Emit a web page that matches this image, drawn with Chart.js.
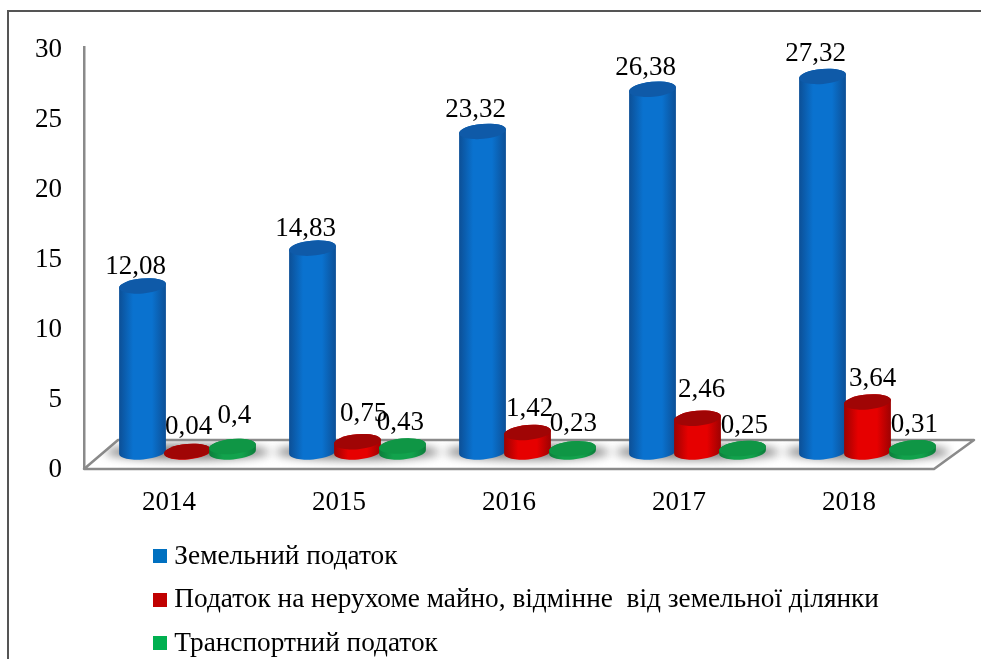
<!DOCTYPE html>
<html>
<head>
<meta charset="utf-8">
<style>html,body{margin:0;padding:0;background:#fff}canvas{display:block}</style>
<script src="https://cdn.jsdelivr.net/npm/chart.js@4"></script>
</head>
<body>
<canvas id="c" width="981" height="659"></canvas>
<script>
const years = ['2014', '2015', '2016', '2017', '2018'];
const landTax = [12.08, 14.83, 23.32, 26.38, 27.32];
const propertyTax = [0.04, 0.75, 1.42, 2.46, 3.64];
const transportTax = [0.4, 0.43, 0.23, 0.25, 0.31];
const seriesNames = [
  'Земельний податок',
  'Податок на нерухоме майно, відмінне  від земельної ділянки',
  'Транспортний податок'
];
const yTicks = [0, 5, 10, 15, 20, 25, 30];

// Cylinder palettes: edge and centre of the body, then the cap.
const palette = [
  { edge: '#0c4f96', mid: '#0a72cf', cap: '#0f5aa8', swatch: '#0070c0' },
  { edge: '#9c0202', mid: '#e60000', cap: '#a00505', swatch: '#c00000' },
  { edge: '#0c7d3a', mid: '#12a24c', cap: '#0f9645', swatch: '#00b050' }
];

const FONT = '"Liberation Serif", "Times New Roman", serif';
const FONT_SIZE = 27;
const LEGEND_FONT_SIZE = 27.3;
const GREY = '#8a8a8a';
const FRAME = '#555555';

// The columns stand halfway back on the floor, which recedes up and to the right.
const DEPTH = { x: 38, y: 28 };
const COLUMN_SHIFT = { x: 18.5, y: -15 };
const CAP_RY = 7.5;
const CAP_TILT = -0.09;

// Label placement relative to the cap centre, per series and year.
const labelNudge = [
  [[-7, -19], [-7, -19], [-7, -21], [-7, -21], [-7, -22]],
  [[1, -25], [6, -28], [2, -24], [4, -28], [5, -23]],
  [[2, -31], [-2, -23], [1, -25], [2, -23], [2, -23]]
];

function swatch(color) {
  const s = document.createElement('canvas');
  s.width = 14; s.height = 14;
  const g = s.getContext('2d');
  g.fillStyle = color;
  g.fillRect(0, 0, 14, 14);
  return s;
}
const swatches = palette.map(p => swatch(p.swatch));

const scene3d = {
  id: 'scene3d',
  // The legend sits under the plot, outside the chart area it is laid out in.
  afterLayout(chart) {
    const l = chart.legend;
    l.left = 143.5; l.right = 960;
    l.top = 526.5; l.bottom = 700;
  },
  beforeDatasetsDraw(chart) {
    const { ctx, chartArea: a } = chart;
    ctx.save();
    // outer frame: open on the right and at the bottom
    ctx.strokeStyle = FRAME;
    ctx.lineWidth = 2;
    ctx.beginPath();
    ctx.moveTo(8, chart.height);
    ctx.lineTo(8, 11);
    ctx.lineTo(chart.width, 11);
    ctx.stroke();
    // floor
    const fy = a.bottom + 2;
    ctx.beginPath();
    ctx.moveTo(a.left, fy);
    ctx.lineTo(a.right, fy);
    ctx.lineTo(a.right + DEPTH.x + 2, fy - 29);
    ctx.lineTo(a.left + DEPTH.x - 4, fy - 29);
    ctx.closePath();
    ctx.fillStyle = '#ffffff';
    ctx.fill();
    ctx.strokeStyle = GREY;
    ctx.lineWidth = 2.5;
    ctx.lineJoin = 'round';
    ctx.stroke();
    // soft shadows under each group of columns
    ctx.save();
    ctx.beginPath();
    ctx.moveTo(a.left, fy - 1);
    ctx.lineTo(a.right, fy - 1);
    ctx.lineTo(a.right + DEPTH.x, fy - 28);
    ctx.lineTo(a.left + DEPTH.x - 4, fy - 28);
    ctx.closePath();
    ctx.clip();
    ctx.filter = 'blur(5px)';
    ctx.fillStyle = '#7c7c7c';
    const mid = chart.getDatasetMeta(1).data;
    mid.forEach(el => {
      ctx.beginPath();
      ctx.ellipse(el.x + COLUMN_SHIFT.x, a.bottom + COLUMN_SHIFT.y, 82, 7.5, 0, 0, Math.PI * 2);
      ctx.fill();
    });
    ctx.restore();
    ctx.restore();
  },
  afterDatasetsDraw(chart) {
    const { ctx } = chart;
    ctx.save();
    years.forEach((_, i) => {
      [0, 1, 2].forEach(d => {
        const el = chart.getDatasetMeta(d).data[i];
        const p = palette[d];
        const cx = el.x + COLUMN_SHIFT.x;
        const top = el.y + COLUMN_SHIFT.y;
        const base = el.base + COLUMN_SHIFT.y;
        const rx = el.width / 2 + 1;
        const grad = ctx.createLinearGradient(cx - rx, 0, cx + rx, 0);
        grad.addColorStop(0, p.edge);
        grad.addColorStop(0.3, p.mid);
        grad.addColorStop(0.7, p.mid);
        grad.addColorStop(1, p.edge);
        ctx.beginPath();
        ctx.ellipse(cx, base, rx, CAP_RY, CAP_TILT, 0, Math.PI);
        ctx.ellipse(cx, top, rx, CAP_RY, CAP_TILT, Math.PI, Math.PI * 2);
        ctx.closePath();
        ctx.fillStyle = grad;
        ctx.fill();
        ctx.beginPath();
        ctx.ellipse(cx, top, rx, CAP_RY, CAP_TILT, 0, Math.PI * 2);
        ctx.fillStyle = p.cap;
        ctx.fill();
      });
    });
    // value labels, with a decimal comma
    ctx.fillStyle = '#000';
    ctx.font = FONT_SIZE + 'px ' + FONT;
    ctx.textAlign = 'center';
    ctx.textBaseline = 'middle';
    chart.data.datasets.forEach((ds, d) => {
      chart.getDatasetMeta(d).data.forEach((el, i) => {
        const n = labelNudge[d][i];
        ctx.fillText(String(ds.data[i]).replace('.', ','),
          el.x + COLUMN_SHIFT.x + n[0], el.y + COLUMN_SHIFT.y + n[1]);
      });
    });
    ctx.restore();
  }
};

new Chart(document.getElementById('c'), {
  type: 'bar',
  data: {
    labels: years,
    datasets: [landTax, propertyTax, transportTax].map((values, i) => ({
      label: seriesNames[i],
      data: values,
      yAxisID: 'yColumns',
      backgroundColor: 'rgba(0,0,0,0)',
      borderWidth: 0,
      barPercentage: 1,
      categoryPercentage: 0.794
    }))
  },
  plugins: [scene3d],
  options: {
    responsive: false,
    animation: false,
    layout: { padding: { top: 47, left: 0, right: 47, bottom: 0 } },
    scales: {
      x: {
        grid: { display: false, drawTicks: false },
        border: { display: false },
        ticks: { color: '#000', font: { family: FONT, size: FONT_SIZE }, padding: 20, maxRotation: 0 },
        afterFit(s) { s.height = 192; }
      },
      y: {
        position: 'left',
        min: 0,
        max: 30,
        afterBuildTicks(s) { s.ticks = yTicks.map(v => ({ value: v })); },
        grid: { display: false, drawTicks: false },
        border: { display: true, color: GREY, width: 2.5 },
        ticks: { color: '#000', font: { family: FONT, size: FONT_SIZE }, padding: 22, labelOffset: 3 },
        afterFit(s) { s.width = 84; }
      },
      // Scale of the plane the columns stand on: slightly compressed by the projection.
      yColumns: {
        display: false,
        min: 0,
        max: 30.55
      }
    },
    plugins: {
      tooltip: { enabled: false },
      legend: {
        position: 'chartArea',
        align: 'start',
        labels: {
          color: '#000',
          font: { family: FONT, size: LEGEND_FONT_SIZE, lineHeight: 1.2 },
          usePointStyle: true,
          pointStyleWidth: 1,
          boxHeight: 14,
          padding: 16.2,
          generateLabels(chart) {
            return Chart.defaults.plugins.legend.labels.generateLabels(chart)
              .map((item, i) => Object.assign(item, { pointStyle: swatches[i] }));
          }
        }
      }
    }
  }
});
</script>
</body>
</html>
